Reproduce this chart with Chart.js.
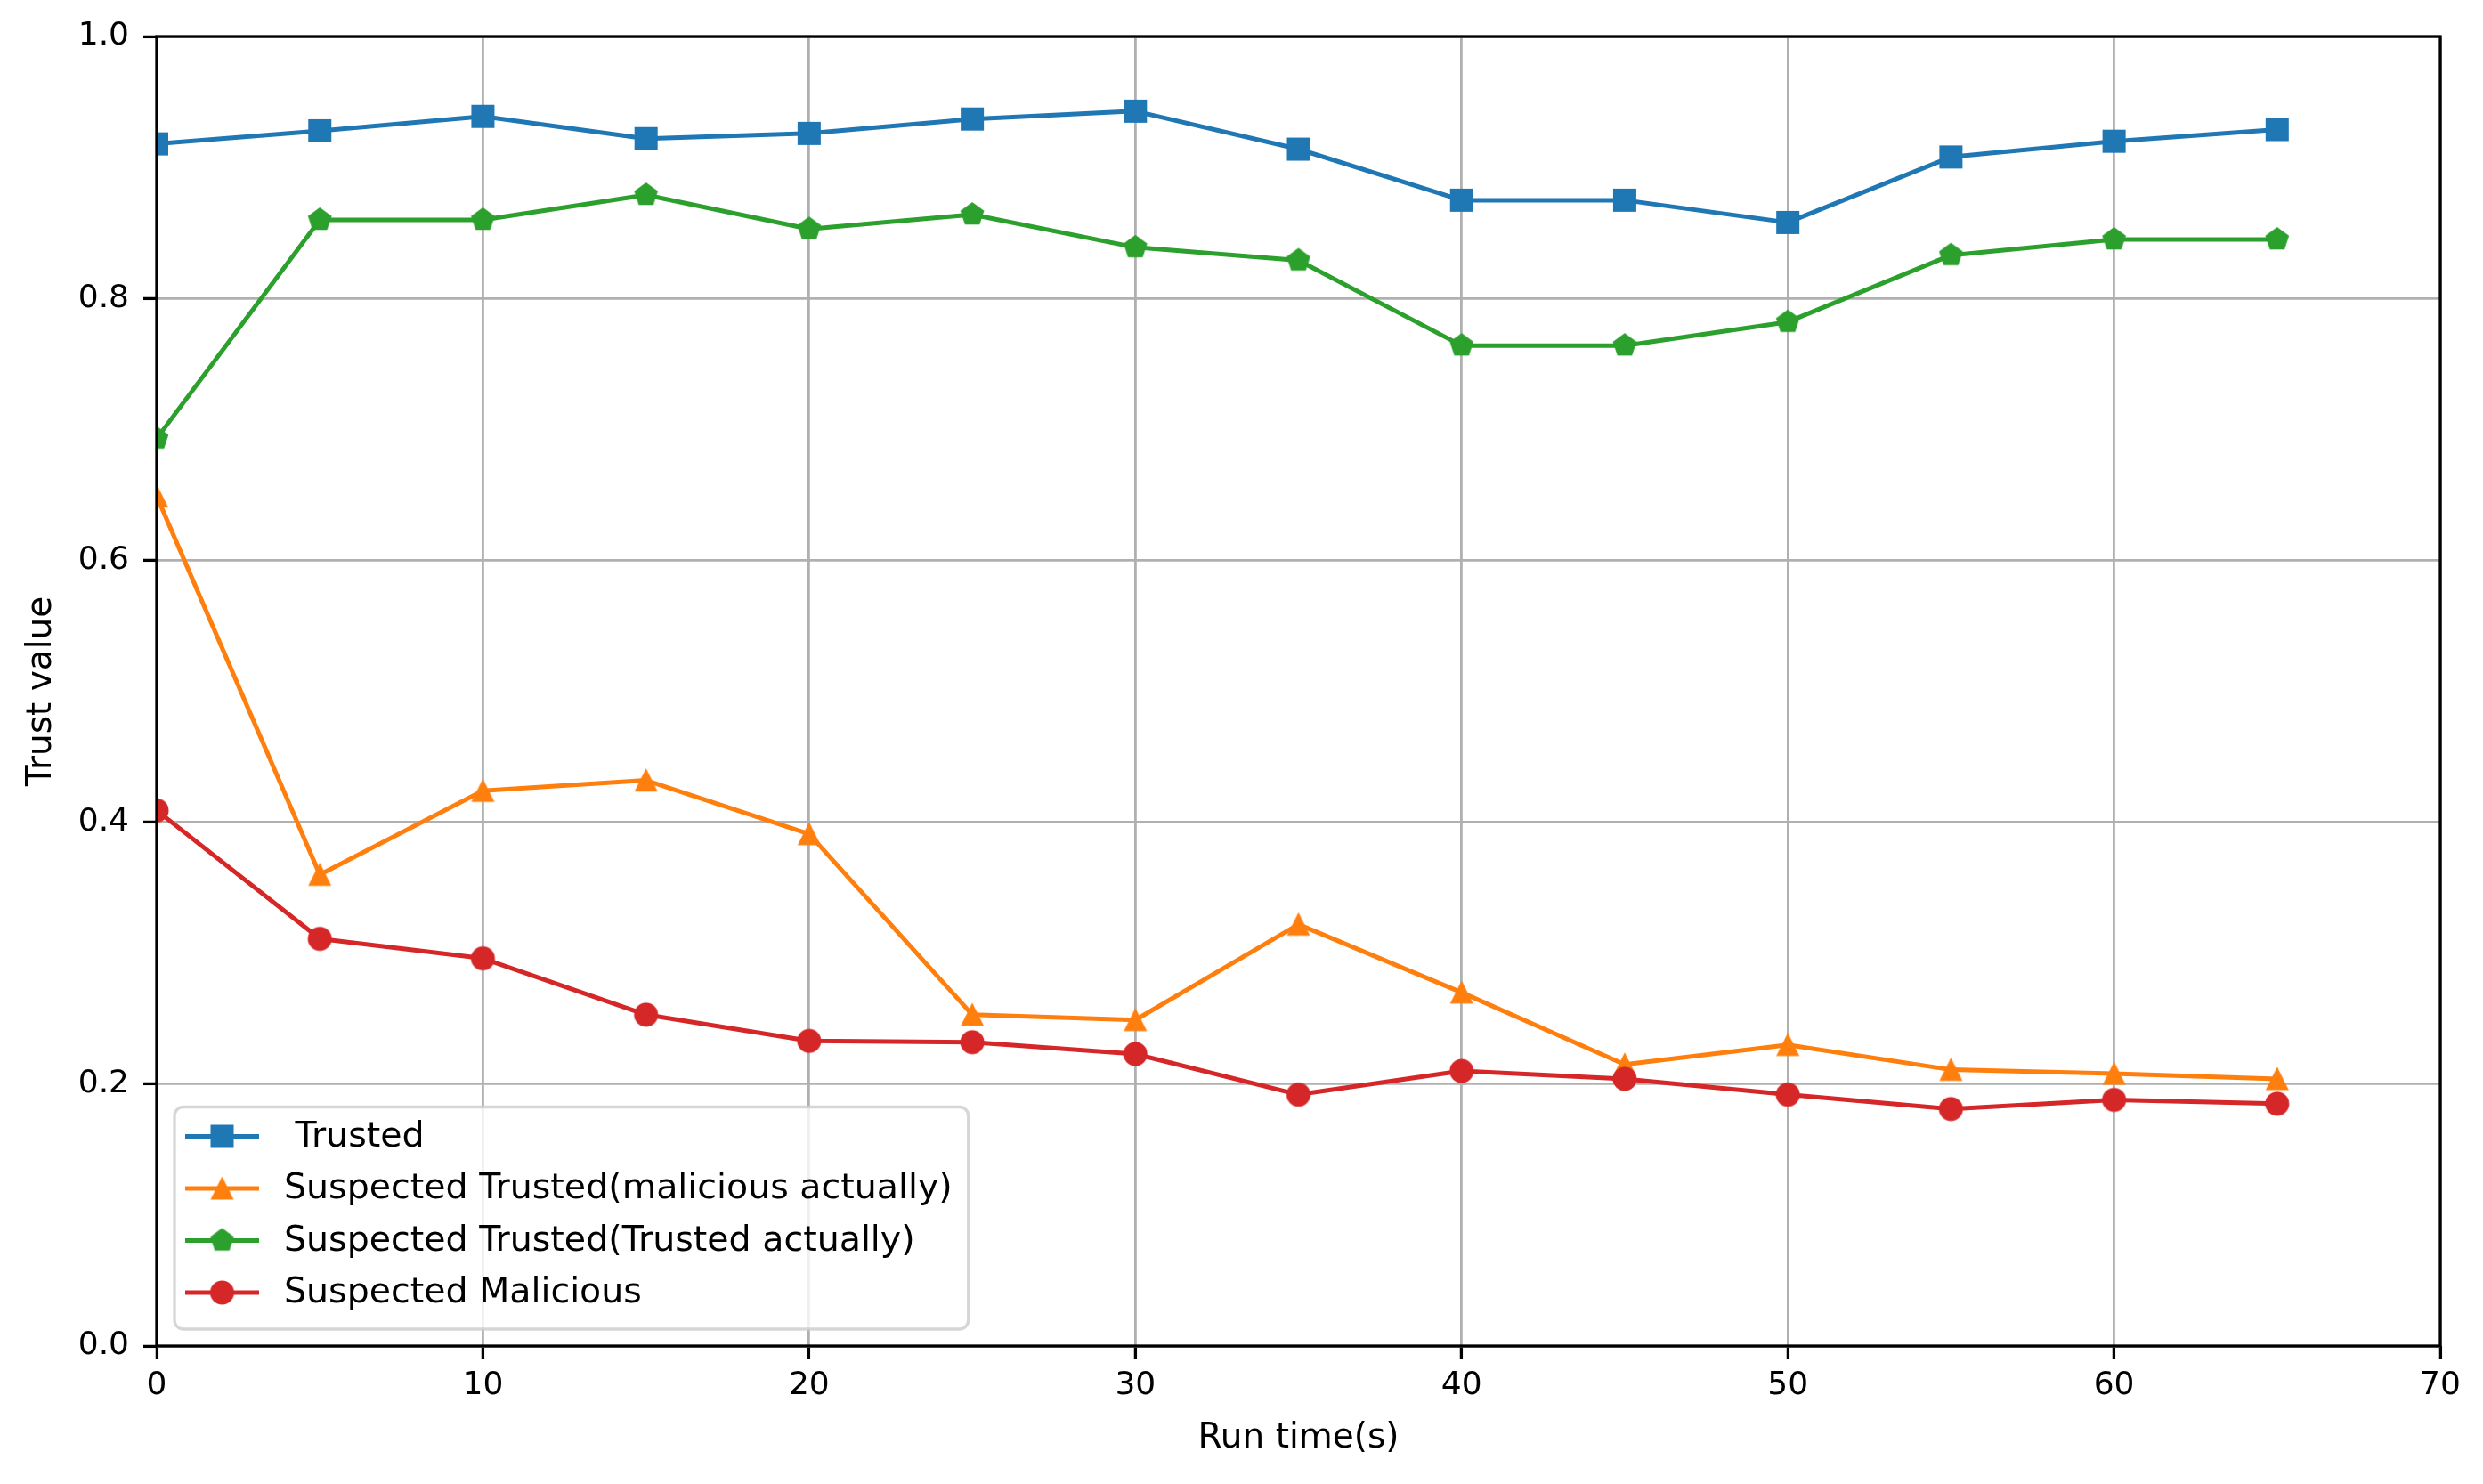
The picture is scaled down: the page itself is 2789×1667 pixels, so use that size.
<!DOCTYPE html>
<html>
<head>
<meta charset="utf-8">
<script src="https://cdn.jsdelivr.net/npm/chart.js@4/dist/chart.umd.min.js"></script>
<style>
  html, body { margin: 0; padding: 0; background: #ffffff; }
  #c { display: block; }
</style>
</head>
<body>
<canvas id="c" width="2789" height="1667" style="width:2789px;height:1667px"></canvas>
<script>
// ---- data ----
const runTimes = [0, 5, 10, 15, 20, 25, 30, 35, 40, 45, 50, 55, 60, 65];
const trusted = [0.918, 0.928, 0.939, 0.922, 0.926, 0.937, 0.943, 0.914, 0.875, 0.875, 0.858, 0.908, 0.920, 0.929];
const suspTrustedMalicious = [0.649, 0.360, 0.424, 0.432, 0.391, 0.253, 0.249, 0.322, 0.270, 0.215, 0.230, 0.211, 0.208, 0.204];
const suspTrustedTrusted = [0.693, 0.860, 0.860, 0.879, 0.853, 0.864, 0.839, 0.829, 0.764, 0.764, 0.782, 0.833, 0.845, 0.845];
const suspMalicious = [0.409, 0.311, 0.296, 0.253, 0.233, 0.232, 0.223, 0.192, 0.210, 0.204, 0.192, 0.181, 0.188, 0.185];
const seriesLabels = [' Trusted', 'Suspected Trusted(malicious actually)', 'Suspected Trusted(Trusted actually)', 'Suspected Malicious'];
const yTicks = [0.0, 0.2, 0.4, 0.6, 0.8, 1.0];
const xTicks = [0, 10, 20, 30, 40, 50, 60, 70];
const xTitle = 'Run time(s)';
const yTitle = 'Trust value';

const COLORS = ['#1f77b4', '#ff7f0e', '#2ca02c', '#d62728'];
const FONT = '"DejaVu Sans", "Liberation Sans", sans-serif';

// ---- marker images (matplotlib-like s, ^, p, o) ----
function makeMarker(shape, color) {
  const s = 34, c = s / 2;
  const cv = document.createElement('canvas');
  cv.width = s; cv.height = s;
  const g = cv.getContext('2d');
  g.fillStyle = color;
  g.beginPath();
  if (shape === 'square') {
    g.rect(c - 13, c - 13, 26, 26);
  } else if (shape === 'circle') {
    g.arc(c, c, 13.5, 0, Math.PI * 2);
  } else if (shape === 'triangle') {
    g.moveTo(c, c - 13.5);
    g.lineTo(c + 13, c + 12.5);
    g.lineTo(c - 13, c + 12.5);
    g.closePath();
  } else if (shape === 'pentagon') {
    const R = 14;
    for (let k = 0; k < 5; k++) {
      const a = -Math.PI / 2 + k * 2 * Math.PI / 5;
      const px = c + R * Math.cos(a), py = c + R * Math.sin(a);
      if (k === 0) g.moveTo(px, py); else g.lineTo(px, py);
    }
    g.closePath();
  }
  g.fill();
  return cv;
}
const markerShapes = ['square', 'triangle', 'pentagon', 'circle'];
const seriesValues = [trusted, suspTrustedMalicious, suspTrustedTrusted, suspMalicious];

const datasets = seriesValues.map((vals, i) => ({
  label: seriesLabels[i],
  data: runTimes.map((t, j) => ({ x: t, y: vals[j] })),
  borderColor: COLORS[i],
  backgroundColor: COLORS[i],
  borderWidth: 5,
  borderJoinStyle: 'round',
  tension: 0,
  fill: false,
  pointStyle: makeMarker(markerShapes[i], COLORS[i]),
  pointRadius: 13,
  pointHoverRadius: 13,
  pointBorderWidth: 0,
  clip: 0,
  order: 3 - i
}));

// frame (all four spines) drawn above the data, like matplotlib
const framePlugin = {
  id: 'frame',
  afterDatasetsDraw(chart) {
    const { ctx, chartArea: a } = chart;
    ctx.save();
    ctx.strokeStyle = '#000000';
    ctx.lineWidth = 3.3;
    ctx.strokeRect(a.left, a.top, a.right - a.left, a.bottom - a.top);
    ctx.restore();
  }
};

// matplotlib-style legend in the lower-left of the plot area
const legendPlugin = {
  id: 'mplLegend',
  afterDraw(chart) {
    const { ctx, chartArea: a } = chart;
    const ds = chart.data.datasets;
    const n = ds.length;
    ctx.save();
    ctx.font = '39.5px ' + FONT;
    const maxW = Math.max(...ds.map(d => ctx.measureText(d.label).width));
    const rowH = 58.5, padTop = 33, padBot = 41;
    const boxL = a.left + 20;
    const boxB = a.bottom - 19;
    const boxH = padTop + rowH * (n - 1) + padBot;
    const boxT = boxB - boxH;
    const handleL = boxL + 12, handleLen = 83;
    const textX = handleL + handleLen + 28;
    const boxW = (textX - boxL) + maxW + 18;
    // frame
    const r = 10;
    ctx.beginPath();
    ctx.moveTo(boxL + r, boxT);
    ctx.lineTo(boxL + boxW - r, boxT);
    ctx.arcTo(boxL + boxW, boxT, boxL + boxW, boxT + r, r);
    ctx.lineTo(boxL + boxW, boxB - r);
    ctx.arcTo(boxL + boxW, boxB, boxL + boxW - r, boxB, r);
    ctx.lineTo(boxL + r, boxB);
    ctx.arcTo(boxL, boxB, boxL, boxB - r, r);
    ctx.lineTo(boxL, boxT + r);
    ctx.arcTo(boxL, boxT, boxL + r, boxT, r);
    ctx.closePath();
    ctx.fillStyle = 'rgba(255,255,255,0.8)';
    ctx.fill();
    ctx.strokeStyle = 'rgba(204,204,204,0.8)';
    ctx.lineWidth = 3.3;
    ctx.stroke();
    // items
    ds.forEach((d, i) => {
      const cy = boxT + padTop + rowH * i;
      ctx.strokeStyle = d.borderColor;
      ctx.lineWidth = d.borderWidth;
      ctx.lineCap = 'butt';
      ctx.beginPath();
      ctx.moveTo(handleL, cy);
      ctx.lineTo(handleL + handleLen, cy);
      ctx.stroke();
      const img = d.pointStyle;
      ctx.drawImage(img, handleL + handleLen / 2 - img.width / 2, cy - img.height / 2);
      ctx.fillStyle = '#000000';
      ctx.textBaseline = 'alphabetic';
      ctx.textAlign = 'left';
      ctx.fillText(d.label, textX, cy + 11);
    });
    ctx.restore();
  }
};

const tickFont = { family: FONT, size: 36 };
const titleFont = { family: FONT, size: 39 };

new Chart(document.getElementById('c').getContext('2d'), {
  type: 'line',
  data: { datasets },
  options: {
    responsive: false,
    animation: false,
    devicePixelRatio: 1,
    layout: { padding: { top: 41, right: 48, bottom: 0, left: 0 } },
    plugins: { legend: { display: false }, tooltip: { enabled: false } },
    events: [],
    scales: {
      x: {
        type: 'linear',
        min: xTicks[0],
        max: xTicks[xTicks.length - 1],
        afterBuildTicks: (s) => { s.ticks = xTicks.map(v => ({ value: v })); },
        afterFit: (s) => { s.height = 155; },
        ticks: { font: tickFont, color: '#000000', padding: 8, maxRotation: 0, autoSkip: false,
                 callback: (v) => String(v) },
        grid: { color: '#b0b0b0', lineWidth: 2.8, drawTicks: true, tickLength: 15, tickColor: '#000000', tickWidth: 3.3 },
        border: { display: false },
        title: { display: true, text: xTitle, font: titleFont, color: '#000000', padding: { top: 0, bottom: 28 } }
      },
      y: {
        type: 'linear',
        min: yTicks[0],
        max: yTicks[yTicks.length - 1],
        afterBuildTicks: (s) => { s.ticks = yTicks.map(v => ({ value: v })); },
        afterFit: (s) => { s.width = 176; },
        ticks: { font: tickFont, color: '#000000', padding: 16, autoSkip: false,
                 callback: (v) => Number(v).toFixed(1) },
        grid: { color: '#b0b0b0', lineWidth: 2.8, drawTicks: true, tickLength: 15, tickColor: '#000000', tickWidth: 3.3 },
        border: { display: false },
        title: { display: true, text: yTitle, font: titleFont, color: '#000000', padding: { top: 23, bottom: 0 } }
      }
    }
  },
  plugins: [framePlugin, legendPlugin]
});
</script>
</body>
</html>
